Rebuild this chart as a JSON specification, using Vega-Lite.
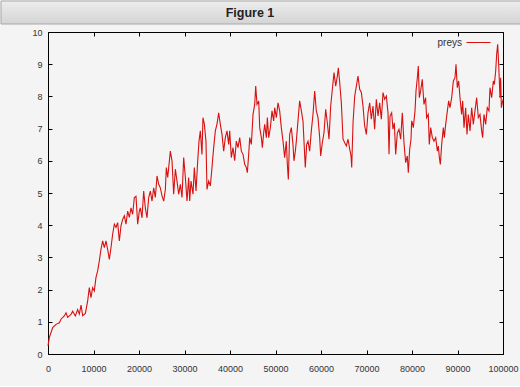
{
  "$schema": "https://vega.github.io/schema/vega-lite/v6.json",
  "background": "#f4f4f4",
  "padding": {"left": 0, "top": 0, "right": 0, "bottom": 12},
  "spacing": 8,
  "bounds": "flush",
  "resolve": {"legend": {"color": "independent"}},
  "config": {"font": "Liberation Sans", "axis": {"grid": false}},
  "vconcat": [
    {
      "width": 520,
      "height": 23,
      "view": {"stroke": null},
      "data": {"values": [{"t": "Figure 1"}]},
      "layer": [
        {
          "mark": {
            "type": "rect",
            "fill": {"gradient": "linear", "x1": 0, "y1": 0, "x2": 0, "y2": 1, "stops": [{"offset": 0, "color": "#ededed"}, {"offset": 1, "color": "#d4d4d4"}]},
            "stroke": "#a8a8a8",
            "strokeWidth": 1
          }
        },
        {
          "mark": {"type": "text", "fontWeight": "bold", "fontSize": 12.5, "font": "Liberation Sans", "color": "#222222", "dx": -11},
          "encoding": {"text": {"field": "t"}}
        }
      ]
    },
    {
      "spacing": 10,
      "bounds": "flush",
      "resolve": {"legend": {"color": "independent"}},
      "hconcat": [
        {
          "width": 37,
          "height": 322,
          "view": {"stroke": null},
          "data": {"values": []},
          "mark": "point"
        },
        {
          "width": 455,
          "height": 322,
          "view": {"stroke": "#000000", "strokeWidth": 1},
          "data": {
            "values": [
              {"x": 0, "y": 0.25}, {"x": 290, "y": 0.51}, {"x": 1030, "y": 0.82}, {"x": 1760, "y": 0.92}, {"x": 2490, "y": 0.97},
              {"x": 2850, "y": 1.08}, {"x": 3580, "y": 1.18}, {"x": 3960, "y": 1.28}, {"x": 4320, "y": 1.14}, {"x": 5050, "y": 1.23},
              {"x": 5420, "y": 1.33}, {"x": 6000, "y": 1.18}, {"x": 6520, "y": 1.38}, {"x": 6890, "y": 1.24}, {"x": 7260, "y": 1.52},
              {"x": 7620, "y": 1.19}, {"x": 8210, "y": 1.26}, {"x": 8720, "y": 1.65}, {"x": 9080, "y": 2.06}, {"x": 9450, "y": 1.75},
              {"x": 9810, "y": 2.06}, {"x": 10180, "y": 1.96}, {"x": 10540, "y": 2.37}, {"x": 10910, "y": 2.58}, {"x": 11280, "y": 2.89},
              {"x": 11640, "y": 3.25}, {"x": 12010, "y": 3.51}, {"x": 12380, "y": 3.30}, {"x": 12740, "y": 3.51}, {"x": 13110, "y": 3.25},
              {"x": 13480, "y": 2.94}, {"x": 13840, "y": 3.30}, {"x": 14210, "y": 3.72}, {"x": 14580, "y": 4.03}, {"x": 14940, "y": 3.93},
              {"x": 15310, "y": 4.08}, {"x": 15680, "y": 3.51}, {"x": 16040, "y": 3.98}, {"x": 16410, "y": 4.18}, {"x": 16780, "y": 4.29},
              {"x": 17140, "y": 4.03}, {"x": 17510, "y": 4.44}, {"x": 17880, "y": 4.24}, {"x": 18240, "y": 4.54}, {"x": 18610, "y": 4.34},
              {"x": 18980, "y": 4.86}, {"x": 19340, "y": 4.90}, {"x": 19710, "y": 4.03}, {"x": 20070, "y": 4.44}, {"x": 20290, "y": 4.54},
              {"x": 20660, "y": 4.23}, {"x": 21030, "y": 5.06}, {"x": 21390, "y": 4.54}, {"x": 21760, "y": 4.23}, {"x": 22130, "y": 4.86},
              {"x": 22490, "y": 5.06}, {"x": 22860, "y": 4.75}, {"x": 23230, "y": 5.16}, {"x": 23590, "y": 4.86}, {"x": 23960, "y": 5.53},
              {"x": 24330, "y": 5.27}, {"x": 24690, "y": 5.16}, {"x": 25060, "y": 4.91}, {"x": 25430, "y": 4.75}, {"x": 25790, "y": 5.11},
              {"x": 26010, "y": 5.79}, {"x": 26310, "y": 5.48}, {"x": 26670, "y": 5.99}, {"x": 26890, "y": 6.30}, {"x": 27260, "y": 5.99},
              {"x": 27620, "y": 4.96}, {"x": 27990, "y": 5.74}, {"x": 28350, "y": 5.37}, {"x": 28720, "y": 4.96}, {"x": 29090, "y": 5.27},
              {"x": 29450, "y": 4.86}, {"x": 29820, "y": 6.10}, {"x": 30190, "y": 5.48}, {"x": 30550, "y": 4.75}, {"x": 30920, "y": 5.48},
              {"x": 31140, "y": 4.75}, {"x": 31430, "y": 5.37}, {"x": 31870, "y": 4.96}, {"x": 32160, "y": 5.79}, {"x": 32530, "y": 5.06},
              {"x": 32900, "y": 5.99}, {"x": 33190, "y": 6.61}, {"x": 33480, "y": 6.93}, {"x": 33840, "y": 6.20}, {"x": 34060, "y": 7.34},
              {"x": 34360, "y": 7.14}, {"x": 34720, "y": 6.61}, {"x": 34940, "y": 5.11}, {"x": 35310, "y": 5.37}, {"x": 35680, "y": 5.22},
              {"x": 36040, "y": 5.79}, {"x": 36410, "y": 6.41}, {"x": 36780, "y": 6.93}, {"x": 37140, "y": 7.14}, {"x": 37510, "y": 7.49},
              {"x": 37870, "y": 7.14}, {"x": 38240, "y": 6.82}, {"x": 38610, "y": 6.30}, {"x": 38970, "y": 6.72}, {"x": 39340, "y": 6.93},
              {"x": 39710, "y": 6.51}, {"x": 39930, "y": 6.93}, {"x": 40290, "y": 6.10}, {"x": 40660, "y": 6.41}, {"x": 41030, "y": 6.00},
              {"x": 41390, "y": 6.61}, {"x": 41760, "y": 6.41}, {"x": 42130, "y": 6.72}, {"x": 42490, "y": 6.30}, {"x": 42860, "y": 6.20},
              {"x": 43230, "y": 5.89}, {"x": 43590, "y": 5.79}, {"x": 43810, "y": 5.63}, {"x": 44110, "y": 6.20}, {"x": 44330, "y": 6.72},
              {"x": 44690, "y": 6.51}, {"x": 45060, "y": 7.44}, {"x": 45430, "y": 7.75}, {"x": 45650, "y": 8.32}, {"x": 45940, "y": 7.75},
              {"x": 46310, "y": 7.86}, {"x": 46530, "y": 7.03}, {"x": 46890, "y": 6.72}, {"x": 47110, "y": 6.41}, {"x": 47400, "y": 6.87},
              {"x": 47620, "y": 7.13}, {"x": 47990, "y": 6.72}, {"x": 48210, "y": 7.34}, {"x": 48500, "y": 6.72}, {"x": 48870, "y": 7.03},
              {"x": 49230, "y": 7.55}, {"x": 49600, "y": 7.24}, {"x": 49820, "y": 7.65}, {"x": 50190, "y": 7.34}, {"x": 50550, "y": 7.80},
              {"x": 50920, "y": 7.55}, {"x": 51280, "y": 7.03}, {"x": 51650, "y": 6.61}, {"x": 52010, "y": 6.10}, {"x": 52380, "y": 6.61},
              {"x": 52600, "y": 5.89}, {"x": 52820, "y": 5.42}, {"x": 53110, "y": 6.82}, {"x": 53480, "y": 7.03}, {"x": 53840, "y": 6.51},
              {"x": 54060, "y": 6.00}, {"x": 54360, "y": 6.30}, {"x": 54580, "y": 6.61}, {"x": 54940, "y": 7.24}, {"x": 55310, "y": 7.86},
              {"x": 55680, "y": 7.55}, {"x": 56040, "y": 7.24}, {"x": 56260, "y": 6.61}, {"x": 56550, "y": 5.79}, {"x": 56850, "y": 6.51},
              {"x": 57140, "y": 6.61}, {"x": 57510, "y": 6.30}, {"x": 57870, "y": 6.93}, {"x": 58240, "y": 7.44}, {"x": 58610, "y": 8.17},
              {"x": 58970, "y": 7.55}, {"x": 59340, "y": 7.34}, {"x": 59710, "y": 6.72}, {"x": 59930, "y": 6.15}, {"x": 60290, "y": 6.56},
              {"x": 60660, "y": 6.87}, {"x": 61030, "y": 7.60}, {"x": 61390, "y": 7.18}, {"x": 61760, "y": 6.67}, {"x": 62130, "y": 7.70},
              {"x": 62490, "y": 8.22}, {"x": 62860, "y": 8.74}, {"x": 63230, "y": 8.32}, {"x": 63590, "y": 8.63}, {"x": 63810, "y": 8.89},
              {"x": 64110, "y": 8.43}, {"x": 64470, "y": 7.80}, {"x": 64840, "y": 6.67}, {"x": 65210, "y": 6.56}, {"x": 65570, "y": 6.46},
              {"x": 65940, "y": 6.67}, {"x": 66310, "y": 6.36}, {"x": 66600, "y": 6.15}, {"x": 66750, "y": 5.79}, {"x": 67040, "y": 7.18},
              {"x": 67410, "y": 8.01}, {"x": 67770, "y": 8.32}, {"x": 68130, "y": 8.63}, {"x": 68500, "y": 8.22}, {"x": 68870, "y": 8.12},
              {"x": 69230, "y": 7.70}, {"x": 69600, "y": 7.08}, {"x": 69970, "y": 6.82}, {"x": 70330, "y": 7.49}, {"x": 70700, "y": 7.80},
              {"x": 71060, "y": 7.29}, {"x": 71430, "y": 7.70}, {"x": 71790, "y": 6.98}, {"x": 72160, "y": 7.91}, {"x": 72530, "y": 7.39},
              {"x": 72890, "y": 7.80}, {"x": 73260, "y": 7.29}, {"x": 73630, "y": 8.12}, {"x": 73990, "y": 7.91}, {"x": 74360, "y": 8.01},
              {"x": 74730, "y": 7.49}, {"x": 74950, "y": 6.20}, {"x": 75170, "y": 7.39}, {"x": 75530, "y": 7.49}, {"x": 75820, "y": 6.98},
              {"x": 76120, "y": 7.18}, {"x": 76410, "y": 6.20}, {"x": 76780, "y": 6.87}, {"x": 77140, "y": 6.98}, {"x": 77510, "y": 6.67},
              {"x": 77870, "y": 7.49}, {"x": 78240, "y": 6.56}, {"x": 78610, "y": 5.94}, {"x": 78970, "y": 6.15}, {"x": 79190, "y": 5.63},
              {"x": 79490, "y": 6.36}, {"x": 79780, "y": 6.67}, {"x": 79930, "y": 7.24}, {"x": 80070, "y": 7.18}, {"x": 80290, "y": 7.03},
              {"x": 80660, "y": 7.55}, {"x": 80880, "y": 8.17}, {"x": 81170, "y": 8.58}, {"x": 81390, "y": 8.94}, {"x": 81610, "y": 7.96},
              {"x": 81900, "y": 8.17}, {"x": 82260, "y": 8.53}, {"x": 82630, "y": 7.75}, {"x": 82990, "y": 7.96}, {"x": 83210, "y": 7.34},
              {"x": 83580, "y": 7.44}, {"x": 83800, "y": 6.51}, {"x": 84110, "y": 7.03}, {"x": 84470, "y": 6.72}, {"x": 84840, "y": 6.61},
              {"x": 85210, "y": 6.72}, {"x": 85570, "y": 6.30}, {"x": 85790, "y": 6.46}, {"x": 86010, "y": 6.10}, {"x": 86230, "y": 5.89},
              {"x": 86520, "y": 6.51}, {"x": 86890, "y": 7.03}, {"x": 87110, "y": 6.72}, {"x": 87400, "y": 7.13}, {"x": 87770, "y": 7.55},
              {"x": 88060, "y": 7.86}, {"x": 88350, "y": 7.65}, {"x": 88720, "y": 7.96}, {"x": 89090, "y": 8.48}, {"x": 89450, "y": 8.58},
              {"x": 89670, "y": 9.00}, {"x": 89960, "y": 8.27}, {"x": 90260, "y": 8.48}, {"x": 90550, "y": 7.96}, {"x": 90910, "y": 7.44},
              {"x": 91140, "y": 7.86}, {"x": 91430, "y": 7.03}, {"x": 91790, "y": 7.65}, {"x": 92090, "y": 6.82}, {"x": 92380, "y": 7.44},
              {"x": 92750, "y": 6.93}, {"x": 93110, "y": 7.65}, {"x": 93480, "y": 7.13}, {"x": 93840, "y": 7.55}, {"x": 94210, "y": 7.96},
              {"x": 94580, "y": 7.34}, {"x": 94940, "y": 7.44}, {"x": 95310, "y": 6.93}, {"x": 95530, "y": 6.72}, {"x": 95820, "y": 7.44},
              {"x": 96190, "y": 7.13}, {"x": 96550, "y": 7.65}, {"x": 96920, "y": 7.55}, {"x": 97140, "y": 8.27}, {"x": 97510, "y": 7.96},
              {"x": 97880, "y": 8.48}, {"x": 98100, "y": 8.37}, {"x": 98390, "y": 8.79}, {"x": 98610, "y": 9.31}, {"x": 98830, "y": 9.62},
              {"x": 99050, "y": 8.99}, {"x": 99340, "y": 7.96}, {"x": 99490, "y": 8.58}, {"x": 99640, "y": 7.65}, {"x": 100000, "y": 7.90}
            ]
          },
          "layer": [
            {
              "mark": {"type": "line", "strokeWidth": 1.1},
              "encoding": {
                "x": {
                  "field": "x", "type": "quantitative",
                  "scale": {"domain": [0, 100000], "nice": false, "zero": false},
                  "axis": {
                    "orient": "bottom", "title": null, "domain": false,
                    "values": [0, 10000, 20000, 30000, 40000, 50000, 60000, 70000, 80000, 90000, 100000],
                    "format": "d", "tickSize": -4, "tickColor": "#000000", "tickWidth": 1,
                    "labelPadding": 14, "labelFontSize": 9, "labelColor": "#333333", "labelFont": "Liberation Sans",
                    "labelFlush": false, "labelOverlap": false
                  }
                },
                "y": {
                  "field": "y", "type": "quantitative",
                  "scale": {"domain": [0, 10], "nice": false},
                  "axis": {
                    "orient": "left", "title": null, "domain": false,
                    "values": [0, 1, 2, 3, 4, 5, 6, 7, 8, 9, 10],
                    "tickSize": -4, "tickColor": "#000000", "tickWidth": 1,
                    "labelPadding": 10, "labelFontSize": 9, "labelColor": "#333333", "labelFont": "Liberation Sans",
                    "labelFlush": false, "labelOverlap": false
                  }
                },
                "color": {
                  "datum": "preys", "type": "nominal",
                  "scale": {"range": ["#d81010"]},
                  "legend": {
                    "title": null, "orient": "none", "legendX": 418, "legendY": -2, "padding": 0,
                    "symbolType": "stroke", "symbolSize": 576, "symbolStrokeWidth": 1,
                    "labelAlign": "right", "labelOffset": -29, "labelFontSize": 10,
                    "labelColor": "#333333", "labelFont": "Liberation Sans"
                  }
                }
              }
            },
            {
              "mark": {"type": "line", "strokeOpacity": 0},
              "encoding": {
                "x": {
                  "field": "x", "type": "quantitative",
                  "axis": {
                    "orient": "top", "title": null, "domain": false, "labels": false,
                    "values": [0, 10000, 20000, 30000, 40000, 50000, 60000, 70000, 80000, 90000, 100000],
                    "tickSize": -4, "tickColor": "#000000", "tickWidth": 1, "minExtent": 0, "maxExtent": 0
                  }
                },
                "y": {
                  "field": "y", "type": "quantitative",
                  "axis": {
                    "orient": "right", "title": null, "domain": false, "labels": false,
                    "values": [0, 1, 2, 3, 4, 5, 6, 7, 8, 9, 10],
                    "tickSize": -4, "tickColor": "#000000", "tickWidth": 1, "minExtent": 0, "maxExtent": 0
                  }
                }
              }
            }
          ]
        }
      ]
    }
  ]
}
